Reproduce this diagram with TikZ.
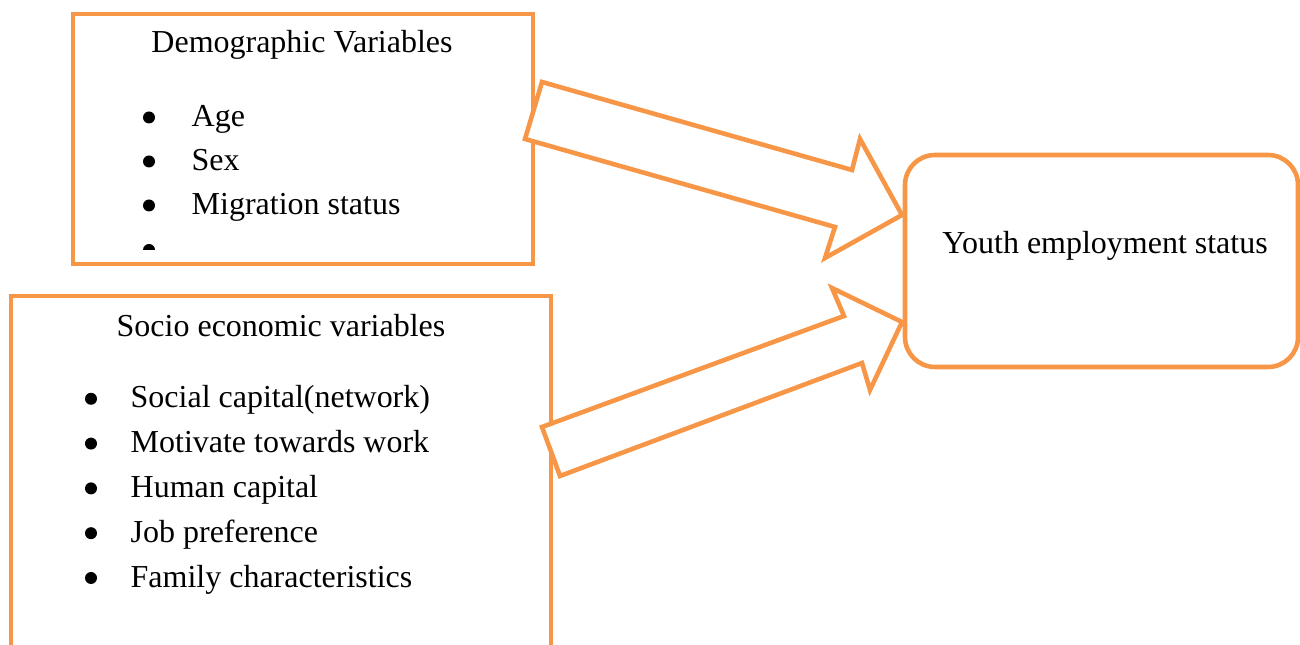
\documentclass[tikz,border=0pt]{standalone}
\usepackage{fontspec}
\setmainfont{Liberation Serif}
\usepackage{tikz}
\usetikzlibrary{positioning}

\definecolor{boxorange}{HTML}{F79646}

\begin{document}
\begin{tikzpicture}[
          x=1cm, y=-1cm, % y grows downwards
          every node/.style={font=\fontsize{9.1}{11}\selectfont},
          frame/.style={draw=boxorange, line width=1.3pt, anchor=north west, inner sep=0pt, outer sep=0pt},
          item/.style={anchor=base west, inner sep=0pt},
          dot/.style={circle, fill=black, inner sep=0pt, minimum size=0.12cm},
          fatarrow/.style={draw=boxorange, line width=1.3pt, fill=white, line join=miter}
      ]
        \clip (0,0) rectangle (13,6.45);
        % the three boxes
        \node[frame, minimum width=4.6cm, minimum height=2.5cm] (demo) at (0.73,0.14) {};
        \node[frame, minimum width=5.4cm, minimum height=3.8cm] (socio) at (0.11,2.96) {};
        \node[frame, rounded corners=0.3cm, minimum width=3.93cm, minimum height=2.12cm] (youth) at (9.05,1.55) {};
        % demographic variables
        \node[anchor=base] (demotitle) at (3.02,0.53) {Demographic Variables};
        \foreach \txt [count=\i] in {Age, Sex, Migration status} {
            \node[item] (demo\i) at (1.91,0.825+0.44*\i) {\txt};
            \node[dot] at (1.49,0.735+0.44*\i) {};
        }
        \begin{scope}
            \clip (1.2,2.2) rectangle (1.8,2.50);
            \node[dot] (demo4) at (1.49,2.50) {};
        \end{scope}
        % socio economic variables
        \node[anchor=base] (sociotitle) at (2.81,3.37) {Socio economic variables};
        \foreach \txt [count=\i] in {Social capital(network), Motivate towards work, Human capital, Job preference, Family characteristics} {
            \node[item] (socio\i) at (1.30,3.63+0.448*\i) {\txt};
            \node[dot] at (0.91,3.54+0.448*\i) {};
        }
        % outcome
        \node[anchor=base] (youthlabel) at (11.05,2.54) {Youth employment status};
        % block arrows
        \draw[fatarrow] (5.42,0.82) -- (8.52,1.70) -- (8.60,1.39) -- (9.02,2.15)
            -- (8.25,2.58) -- (8.35,2.27) -- (5.25,1.39) -- cycle;
        \draw[fatarrow] (5.42,4.27) -- (8.44,3.16) -- (8.32,2.88) -- (9.02,3.22)
            -- (8.70,3.90) -- (8.62,3.63) -- (5.60,4.76) -- cycle;
      \end{tikzpicture}
\end{document}
